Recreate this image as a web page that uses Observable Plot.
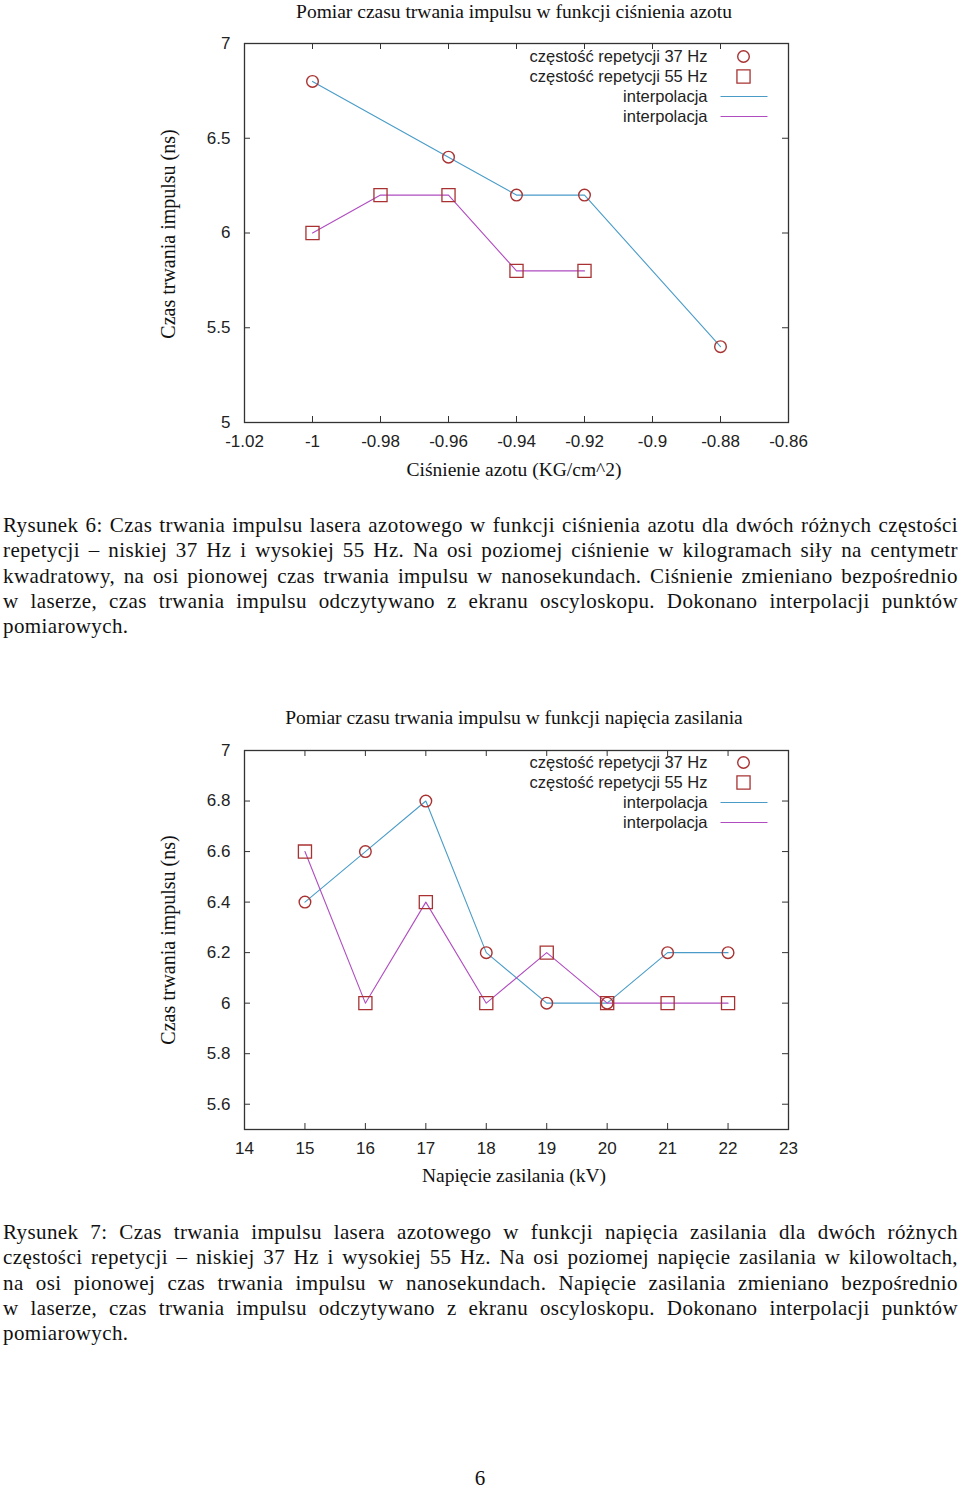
<!DOCTYPE html>
<html><head><meta charset="utf-8">
<script src="https://cdn.jsdelivr.net/npm/d3@7"></script>
<script src="https://cdn.jsdelivr.net/npm/@observablehq/plot@0.6"></script>
<style>
html,body{margin:0;padding:0;background:#fff}
body{width:960px;height:1489px;position:relative;overflow:hidden}
.abs{position:absolute}
.title,.axlab{position:absolute;font-family:"Liberation Serif",serif;font-size:19.5px;color:#111;white-space:nowrap;transform:translate(-50%,-50%)}
.ylab{font-size:20px;transform:translate(-50%,-50%) rotate(-90deg)}
.cap{position:absolute;left:3px;width:955px;font-family:"Liberation Serif",serif;font-size:21px;letter-spacing:0.4px;line-height:25.3px;color:#111}
.cap div{white-space:nowrap;height:25.3px}
.cap span{white-space:nowrap}
.pg{position:absolute;left:480px;top:1478px;transform:translate(-50%,-50%);font-family:"Liberation Serif",serif;font-size:21px;color:#111}
</style>
</head><body>
<div id="c1" class="abs" style="left:0;top:0"></div>
<div id="c2" class="abs" style="left:0;top:700px"></div>
<script>
// ---- data: chart 1 (pressure) ----
const pressure37 = [-1, -0.96, -0.94, -0.92, -0.88];
const time37p = [6.8, 6.4, 6.2, 6.2, 5.4];
const pressure55 = [-1, -0.98, -0.96, -0.94, -0.92];
const time55p = [6.0, 6.2, 6.2, 5.8, 5.8];
const pressureTicks = [-1.02, -1, -0.98, -0.96, -0.94, -0.92, -0.9, -0.88, -0.86];
const timeTicksP = [5, 5.5, 6, 6.5, 7];
// ---- data: chart 2 (voltage) ----
const voltage = [15, 16, 17, 18, 19, 20, 21, 22];
const time37v = [6.4, 6.6, 6.8, 6.2, 6.0, 6.0, 6.2, 6.2];
const time55v = [6.6, 6.0, 6.4, 6.0, 6.2, 6.0, 6.0, 6.0];
const voltageTicks = [14, 15, 16, 17, 18, 19, 20, 21, 22, 23];
const timeTicksV = [5.6, 5.8, 6, 6.2, 6.4, 6.6, 6.8, 7];
// ---- text ----
const legendLabels = ["częstość repetycji 37 Hz", "częstość repetycji 55 Hz", "interpolacja", "interpolacja"];
const titles = ["Pomiar czasu trwania impulsu w funkcji ciśnienia azotu", "Pomiar czasu trwania impulsu w funkcji napięcia zasilania"];
const xLabels = ["Ciśnienie azotu (KG/cm^2)", "Napięcie zasilania (kV)"];
const yLabel = "Czas trwania impulsu (ns)";
const caption1 = [
  "Rysunek 6: Czas trwania impulsu lasera azotowego w funkcji ciśnienia azotu dla dwóch różnych częstości",
  "repetycji – niskiej 37 Hz i wysokiej 55 Hz.  Na osi poziomej ciśnienie w kilogramach siły na centymetr",
  "kwadratowy, na osi pionowej czas trwania impulsu w nanosekundach. Ciśnienie zmieniano bezpośrednio",
  "w laserze, czas trwania impulsu odczytywano z ekranu oscyloskopu.  Dokonano interpolacji punktów",
  "pomiarowych."
];
const caption2 = [
  "Rysunek 7:  Czas trwania impulsu lasera azotowego w funkcji napięcia zasilania dla dwóch różnych",
  "częstości repetycji – niskiej 37 Hz i wysokiej 55 Hz.  Na osi poziomej napięcie zasilania w kilowoltach,",
  "na osi pionowej czas trwania impulsu w nanosekundach.  Napięcie zasilania zmieniano bezpośrednio",
  "w laserze, czas trwania impulsu odczytywano z ekranu oscyloskopu.  Dokonano interpolacji punktów",
  "pomiarowych."
];

const RED = "#a83232", BLUE = "#4a9cc8", MAG = "#b04cc0", INK = "#333";

const lineSymbol = {draw(ctx) { ctx.moveTo(-23.5, 0); ctx.lineTo(23.5, 0); }};

function chart({xs37, ys37, xs55, ys55, xDomain, yDomain, xTicks, yTicks, height, marginTop, marginBottom, legendTop}) {
  const W = 960, ML = 244, MR = 172;
  const pw = W - ML - MR, ph = height - marginTop - marginBottom, tl = 6;
  const d37 = xs37.map((x, i) => ({x, y: ys37[i]}));
  const d55 = xs55.map((x, i) => ({x, y: ys55[i]}));
  const legend = [];
  legendLabels.forEach((t, i) => {
    legend.push(Plot.text([t], {text: d => d, frameAnchor: "top-right", lineAnchor: "middle", dx: -81, dy: legendTop + 20 * i, textAnchor: "end", fontSize: 16.5, fill: "#222"}));
  });
  legend.push(Plot.dot([0], {frameAnchor: "top-right", dx: -45, dy: legendTop, r: 5.8, stroke: RED, strokeWidth: 1.4}));
  legend.push(Plot.dot([0], {frameAnchor: "top-right", dx: -45, dy: legendTop + 20, symbol: "square", r: 7.4, stroke: RED, strokeWidth: 1.3}));
  legend.push(Plot.dot([0], {frameAnchor: "top-right", dx: -44.5, dy: legendTop + 40, symbol: lineSymbol, stroke: BLUE, strokeWidth: 1.2}));
  legend.push(Plot.dot([0], {frameAnchor: "top-right", dx: -44.5, dy: legendTop + 60, symbol: lineSymbol, stroke: MAG, strokeWidth: 1.2}));
  return Plot.plot({
    width: W, height, marginLeft: ML, marginRight: MR, marginTop, marginBottom,
    x: {domain: xDomain}, y: {domain: yDomain},
    style: {fontFamily: "'Liberation Sans', Arial, sans-serif", fontSize: "17px", color: "#222", background: "transparent"},
    marks: [
      Plot.tickY(yTicks, {y: d => d, insetRight: pw - tl, stroke: INK}),
      Plot.tickY(yTicks, {y: d => d, insetLeft: pw - tl, stroke: INK}),
      Plot.tickX(xTicks, {x: d => d, insetTop: ph - tl, stroke: INK}),
      Plot.tickX(xTicks, {x: d => d, insetBottom: ph - tl, stroke: INK}),
      Plot.axisX(xTicks, {tickSize: 0, tickPadding: 12, tickFormat: d => String(d), label: null}),
      Plot.axisY(yTicks, {tickSize: 0, tickPadding: 14, tickFormat: d => String(d), label: null}),
      Plot.line(d37, {x: "x", y: "y", stroke: BLUE, strokeWidth: 1.1}),
      Plot.line(d55, {x: "x", y: "y", stroke: MAG, strokeWidth: 1.1}),
      Plot.dot(d37, {x: "x", y: "y", r: 5.8, stroke: RED, strokeWidth: 1.4}),
      Plot.dot(d55, {x: "x", y: "y", symbol: "square", r: 7.4, stroke: RED, strokeWidth: 1.3}),
      Plot.frame({stroke: INK, strokeWidth: 1.3}),
      ...legend
    ]
  });
}

document.getElementById("c1").appendChild(chart({
  xs37: pressure37, ys37: time37p, xs55: pressure55, ys55: time55p,
  xDomain: [-1.02, -0.86], yDomain: [5, 7], xTicks: pressureTicks, yTicks: timeTicksP,
  height: 490, marginTop: 43, marginBottom: 68, legendTop: 13
}));
document.getElementById("c2").appendChild(chart({
  xs37: voltage, ys37: time37v, xs55: voltage, ys55: time55v,
  xDomain: [14, 23], yDomain: [5.5, 7], xTicks: voltageTicks, yTicks: timeTicksV,
  height: 500, marginTop: 50, marginBottom: 71, legendTop: 12
}));

function addText(cls, text, x, y) {
  const d = document.createElement("div");
  d.className = cls; d.textContent = text;
  d.style.left = x + "px"; d.style.top = y + "px";
  document.body.appendChild(d);
}
addText("title", titles[0], 514, 12);
addText("axlab", xLabels[0], 514, 470);
addText("axlab ylab", yLabel, 168, 234);
addText("title", titles[1], 514, 718);
addText("axlab", xLabels[1], 514, 1176);
addText("axlab ylab", yLabel, 168, 940);

const CAP_W = 955;
function addCaption(lines, top) {
  const c = document.createElement("div");
  c.className = "cap"; c.style.top = top + "px";
  document.body.appendChild(c);
  lines.forEach((l, i) => {
    const d = document.createElement("div");
    const s = document.createElement("span");
    s.textContent = l.replace(/\s+/g, " ");
    d.appendChild(s);
    c.appendChild(d);
    if (i < lines.length - 1) {
      const w = s.getBoundingClientRect().width;
      const spaces = (l.replace(/\s+/g, " ").match(/ /g) || []).length;
      let extra = (CAP_W - w) / spaces;
      if (extra < -1) {
        // too long: tighten letters
        const chars = l.length;
        s.style.letterSpacing = (0.4 + (CAP_W - w) / chars) + "px";
        const w2 = s.getBoundingClientRect().width;
        extra = (CAP_W - w2) / spaces;
      }
      s.style.wordSpacing = extra + "px";
    }
  });
}
addCaption(caption1, 513);
addCaption(caption2, 1220);
addText("pg", "6", 480, 1478);
</script>
</body></html>
